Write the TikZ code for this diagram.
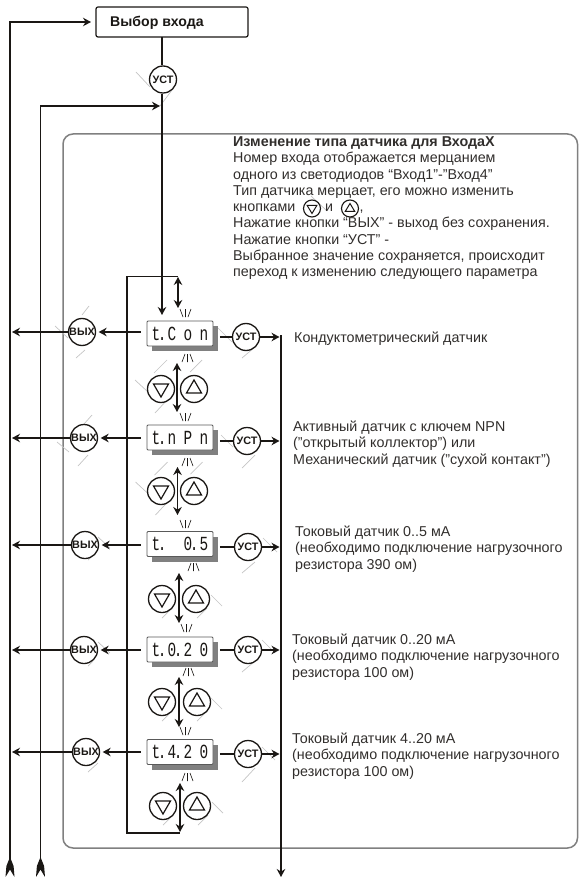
\documentclass[tikz,border=0pt]{standalone}
\usepackage{fontspec}
\setmainfont{Liberation Sans}
\newfontfamily\segfont{Liberation Mono}
\usetikzlibrary{arrows.meta,calc}
\definecolor{framegray}{HTML}{808080}
\definecolor{slash}{HTML}{C4C4C4}
\definecolor{ink}{HTML}{1A1714}
\newcommand{\txt}[3]{\node[lbl] (#1) at #2 {#3};}
\newcommand{\slot}[1]{\makebox[16pt][l]{\hspace{3.7pt}\scalebox{.72}[1]{#1}}}
\newcommand{\dotted}[1]{\makebox[16pt][l]{\hspace{3.7pt}\scalebox{.72}[1]{#1\kern-3.6pt.}}}
\newcommand{\raysup}[2]{\draw[ray] (#1,#2) -- (#1+3,#2+8) (#1+5.5,#2) -- (#1+5.5,#2+8) (#1+11,#2) -- (#1+8,#2+8);}
\newcommand{\raysdn}[2]{\draw[ray] (#1+3,#2) -- (#1,#2+8) (#1+5.5,#2) -- (#1+5.5,#2+8) (#1+8,#2) -- (#1+11,#2+8);}
\tikzset{
 x=1pt,y=-1pt,
 lbl/.style={anchor=base west,inner sep=0pt,font=\fontsize{14.3}{16}\selectfont,text=ink!90},
 conn/.style={line width=1.5pt,draw=ink},
 head/.style={conn,-{Stealth[length=8pt,width=8.5pt]}},
 both/.style={conn,{Stealth[length=8pt,width=8.5pt]}-{Stealth[length=8pt,width=8.5pt]}},
 btn/.style={circle,draw=ink,line width=1.3pt,fill=white,inner sep=0pt,minimum size=27pt,font=\bfseries\fontsize{10.8}{12}\selectfont,text=ink},
 tri/.style={draw=ink,line width=1.2pt,line join=miter},
 disp/.style={draw=black!65,line width=.9pt,fill=white,rounded corners=1pt,minimum width=66pt,minimum height=25pt,inner sep=0pt,font=\segfont\fontsize{20}{20}\selectfont,text=ink},
 ray/.style={draw=ink,line width=.6pt},
 sl/.style={draw=slash,line width=.7pt},
 tailhead/.style={fill=ink},
}
\begin{document}
\begin{tikzpicture}
\useasboundingbox (0,0) rectangle (578,877);
% frame
\draw[framegray,line width=1.5pt,rounded corners=10pt] (63,134) rectangle (577.5,848);
% top box
\node[draw=ink,line width=1.2pt,rounded corners=2pt,minimum width=152pt,minimum height=30pt,inner sep=0pt,fill=white] (top) at (172,22) {};
\node[anchor=base west,inner sep=0pt,font=\bfseries\fontsize{14.1}{16}\selectfont,text=ink] (toptext) at (110,27) {Выбор входа};
\draw[sl] (136,72) -- (150,87) (172,90) -- (160,106);
\node[btn] (ust0) at (163,79.5) {УСТ};
% buses
\coordinate (b1top) at (10,22);
\coordinate (b1bot) at (10,866);
\coordinate (b2top) at (40.5,106);
\coordinate (b2bot) at (40.5,866);
\coordinate (b2end) at (160,106);
\coordinate (topin) at (91,22);
\draw[head] (b1bot) -- (b1top) -- (topin);
\draw[head] (b2bot) -- (b2top) -- (b2end);
\foreach \x in {10,40.5}{\fill[tailhead] (\x,857) -- (\x+3.6,866) -- (\x+4.5,877) -- (\x,869.5) -- (\x-4.5,877) -- (\x-3.6,866) -- cycle;}
\draw[conn] (162,37.5) -- (162,65.5);
\coordinate (disptop) at (162,315);
\draw[head] (162,94) -- (disptop);
% loop
\coordinate (la) at (178,276.5);
\coordinate (lb) at (127,276.5);
\coordinate (lc) at (127,833);
\coordinate (ld) at (180,833);
\draw[conn] (la) -- (lb) -- (lc) -- (ld);
% output line
\coordinate (outtop) at (281,335);
\coordinate (outbot) at (281,877);
\draw[head] (outtop) -- (outbot);
% slashes at the output buttons
\draw[sl] (55,326) -- (68,338) (89,306) -- (82,315) (85,350) -- (76,358)
 (218,328) -- (232,342) (242,358) -- (255,347)
 (221,435) -- (233,447) (242,468) -- (255,455)
 (263,538) -- (277,552) (242,573) -- (255,562)
 (262,640) -- (275,653) (242,672) -- (255,661)
 (262,747) -- (275,760) (242,782) -- (255,768)
 (98,537) -- (110,548) (88,560) -- (93,555)
 (88,772) -- (98,763) (57,442) -- (69,452) (88,455) -- (78,466) (92,415) -- (84,424)
 (98,642) -- (110,653) (88,666) -- (93,661);
% rows
\foreach \r/\dy/\vx/\vy/\ux/\uy/\cont in {
 1/333.5/82/332/246/337/{\dotted{t}\slot{C}\slot{o}\slot{n}},
 2/437.5/84/438/247/441/{\dotted{t}\slot{n}\slot{P}\slot{n}},
 3/544/85/545/248/547/{\dotted{t}\slot{\ }\dotted{0}\slot{5}},
 4/649.5/84/650/248/650/{\dotted{t}\dotted{0}\slot{2}\slot{0}},
 5/752/86/752/248/754/{\dotted{t}\dotted{4}\slot{2}\slot{0}}}{
 \fill[framegray] (152,\dy-12.5+5) rectangle (218,\dy+12.5+5);
 \node[disp] (d\r) at (180,\dy) {\cont};
 \node[btn] (v\r) at (\vx,\vy) {ВЫХ};
 \node[btn] (u\r) at (\ux,\uy) {УСТ};
 \coordinate (o\r) at (12,\vy);
 \coordinate (p\r) at (281,\uy);
 \draw[head,shorten <=6pt,shorten >=2.5pt] (d\r.west |- v\r.east) -- (v\r.east);
 \draw[head] (v\r.west) -- (o\r);
 \draw[conn,shorten <=6.5pt] (d\r.east |- u\r.west) -- (u\r.west);
 \draw[head,shorten >=1.5pt] (u\r.east) -- (p\r);
}
% button pairs
\foreach \p/\dx/\ax/\ux/\py/\ta/\tb in {
 1/161/177/194/389/363/412,
 2/161/177.5/194/491/467/515,
 3/162/179/196/599/573/623,
 4/162/179/197/702/677/727,
 5/163/180/197/806/783/832}{
 \ifnum\p<3
  \draw[sl] (\ax-42,\py-9) -- (\ax-29,\py+3) (\ax-22,\py+24) -- (\ax-10,\py+11) (\ax-10,\py-29) -- (\ax-23,\py-16) (\ax+25,\py-29) -- (\ax+13,\py-17);
 \else
  \draw[sl] (\ax-17,\py+19) -- (\ax-7,\py+9) (\ax+18,\py+19) -- (\ax+28,\py+9) (\ax+32,\py-4) -- (\ax+43,\py+7) (\ax-12,\py-6) -- (\ax-3,\py+1);
 \fi
 \node[btn] (dn\p) at (\dx,\py) {};
 \node[btn] (up\p) at (\ux,\py) {};
 \draw[tri,shift={(\dx,\py)}] (-7.5,-5) -- (7.5,-5) -- (0,8) -- cycle;
 \draw[tri,shift={(\ux,\py)}] (-7.5,4) -- (7.5,4) -- (0,-9) -- cycle;
 \coordinate (at\p) at (\ax,\ta);
 \coordinate (ab\p) at (\ax,\tb);
 \draw[both] (at\p) -- (ab\p);
}
\coordinate (ta0) at (178,277);
\coordinate (tb0) at (178,308);
\draw[both] (ta0) -- (tb0);
% rays
\raysup{180}{309}
\raysdn{182}{354}
\raysup{180}{413}
\raysdn{182}{458}
\raysup{180}{520}
\raysdn{188}{563}
\raysup{181}{624}
\raysdn{183}{668}
\raysup{180}{727}
\raysdn{182}{773}
% header text
\node[lbl,font=\bfseries\fontsize{14.3}{16}\selectfont] (h0) at (233,147) {Изменение типа датчика для ВходаХ};
\txt{h1}{(233,163)}{Номер входа отображается мерцанием}
\txt{h2}{(233,179.5)}{одного из светодиодов “Вход1”-”Вход4”}
\txt{h3}{(233,195.5)}{Тип датчика мерцает, его можно изменить}
\txt{h4}{(233,212)}{кнопками}
\draw[sl] (311,196) -- (327,211);
\node[btn,minimum size=17pt,line width=1.1pt] (ld1) at (312,208.5) {};
\draw[tri,line width=1pt,shift={(312,208.5)}] (-4.8,-3) -- (4.8,-3) -- (0,5) -- cycle;
\txt{h4b}{(325,212)}{и}
\node[btn,minimum size=17pt,line width=1.1pt] (ld2) at (350,208.5) {};
\draw[tri,line width=1pt,shift={(350,208.5)}] (-4.8,3) -- (4.8,3) -- (0,-5) -- cycle;
\txt{h4c}{(359.5,212)}{,}
\txt{h5}{(233,228)}{Нажатие кнопки “ВЫХ” - выход без сохранения.}
\txt{h6}{(233,244)}{Нажатие кнопки “УСТ” -}
\txt{h7}{(233,260)}{Выбранное значение сохраняется, происходит}
\txt{h8}{(233,276)}{переход к изменению следующего параметра}
% right labels
\txt{a1}{(294,342)}{Кондуктометрический датчик}
\txt{b1}{(293,431)}{Активный датчик с ключем NPN}
\txt{b2}{(293,447.5)}{(”открытый коллектор”) или}
\txt{b3}{(293,464)}{Механический датчик (”сухой контакт”)}
\txt{c1}{(295,536.5)}{Токовый датчик 0..5 мА}
\txt{c2}{(295,552.5)}{(необходимо подключение нагрузочного}
\txt{c3}{(295,569)}{резистора 390 ом)}
\txt{e1}{(292,644)}{Токовый датчик 0..20 мА}
\txt{e2}{(292,660)}{(необходимо подключение нагрузочного}
\txt{e3}{(292,677)}{резистора 100 ом)}
\txt{f1}{(292,743.5)}{Токовый датчик 4..20 мА}
\txt{f2}{(292,759.5)}{(необходимо подключение нагрузочного}
\txt{f3}{(292,776)}{резистора 100 ом)}
\end{tikzpicture}
\end{document}
